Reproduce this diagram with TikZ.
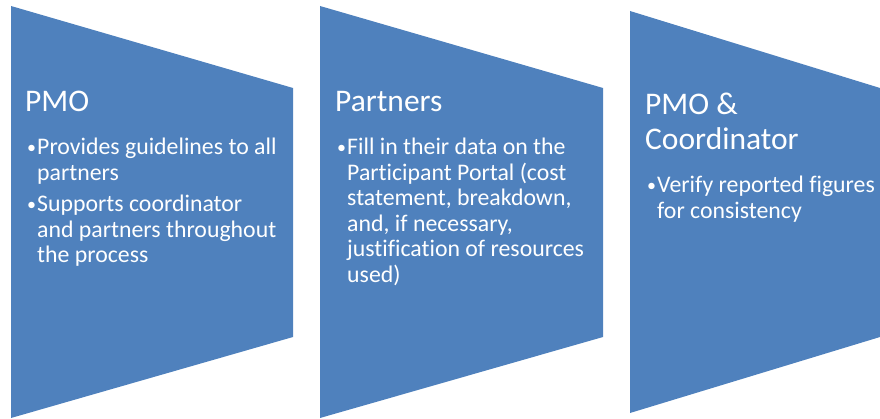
\documentclass[tikz,border=0pt]{standalone}
\usepackage{fontspec}
\setmainfont{Carlito}[Ligatures=NoCommon]
\usepackage{tikz}
\definecolor{stageblue}{HTML}{4F81BD}
\newcommand{\rows}[1]{\begin{tabular}[t]{@{}l@{}}#1\end{tabular}}
\newcommand{\items}[1]{\begin{tabular}[t]{@{}l@{}l@{}}#1\end{tabular}}
\newcommand{\bul}{\makebox[10pt][l]{\raisebox{1.5pt}{\fontsize{18}{18}\selectfont\textbullet}}}
\tikzset{
  stage/.style={fill=stageblue},
  head/.style={anchor=base west, inner sep=0pt, text=white, font=\fontsize{31.5}{35}\selectfont},
  list/.style={anchor=base west, inner sep=0pt, text=white, font=\fontsize{23.8}{25.5}\selectfont}
}
\begin{document}
\begin{tikzpicture}[x=1pt, y=-1pt]
  \useasboundingbox (0,0) rectangle (880,419);
  \fill[stage] (11,6)--(293,88)--(293,337)--(11,418)--cycle;
  \fill[stage] (320,6)--(603,88)--(603,337)--(320,418)--cycle;
  \fill[stage] (630,11)--(880,88)--(880,337)--(630,413)--cycle;
  \node[head](t1) at (25,112){PMO};
  \node[head](t2) at (335,112){Partners};
  \node[head](t3) at (645,115){\rows{PMO \&\\Coordinator}};
  \node[list](b1) at (27,155){\items{\bul&Provides guidelines to all\\&partners\\[6pt]
    \bul&Supports coordinator\\&and partners throughout\\&the process}};
  \node[list](b2) at (337,155){\items{\bul&Fill in their data on the\\&Participant Portal (cost\\
    &statement, breakdown,\\&and, if necessary,\\&justification of resources\\&used)}};
  \node[list](b3) at (647,193){\items{\bul&Verify reported figures\\&for consistency}};
\end{tikzpicture}
\end{document}
